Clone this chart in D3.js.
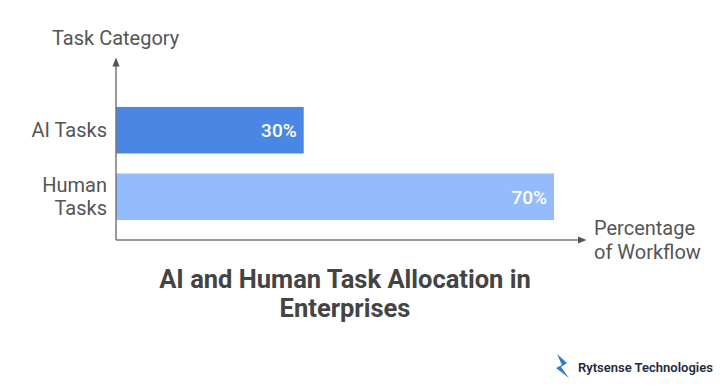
<!DOCTYPE html>
<html>
<head>
<meta charset="utf-8">
<script src="https://cdn.jsdelivr.net/npm/d3@7"></script>
<style>
  body { margin: 0; background: #fff; }
  svg { display: block; font-family: Roboto, "Noto Sans", sans-serif; }
</style>
</head>
<body>
<div id="chart"></div>
<script>
const categories = ["AI Tasks", "Human Tasks"];
const categoryLines = [["AI Tasks"], ["Human", "Tasks"]];
const values = [30, 70];
const barColors = ["#4a86e4", "#94bbfb"];

const width = 726, height = 390;
const axisX = 116, axisY = 240;

const svg = d3.select("#chart").append("svg")
    .attr("width", width)
    .attr("height", height);

const x = d3.scaleLinear()
    .domain([0, 70])
    .range([axisX, 554]);

const y = d3.scaleBand()
    .domain(categories)
    .range([87, 240])
    .paddingInner(0.3)
    .paddingOuter(0.3);

// Bars
svg.selectAll(".bar")
    .data(values)
    .enter()
    .append("rect")
    .attr("x", x(0))
    .attr("y", (d, i) => y(categories[i]))
    .attr("width", d => x(d) - x(0))
    .attr("height", y.bandwidth())
    .attr("fill", (d, i) => barColors[i]);

// Value labels
svg.selectAll(".val")
    .data(values)
    .enter()
    .append("text")
    .attr("x", d => x(d) - 7)
    .attr("y", (d, i) => y(categories[i]) + y.bandwidth() / 2 + 7)
    .attr("text-anchor", "end")
    .style("font-size", "19px")
    .style("font-weight", "500")
    .style("fill", "#fff")
    .text(d => d + "%");

// Category labels
categoryLines.forEach((lines, i) => {
    const cy = y(categories[i]) + y.bandwidth() / 2;
    const t = svg.append("text")
        .attr("text-anchor", "end")
        .style("font-size", "20px")
        .style("fill", "#555");
    lines.forEach((ln, j) => {
        t.append("tspan")
            .attr("x", 107)
            .attr("y", cy + 7 + (j - (lines.length - 1) / 2) * 23)
            .text(ln);
    });
});

// Axes with arrows
const defs = svg.append("defs");
defs.append("marker")
    .attr("id", "arrow")
    .attr("viewBox", "0 0 10 10")
    .attr("refX", 5).attr("refY", 5)
    .attr("markerWidth", 6).attr("markerHeight", 6)
    .attr("orient", "auto")
    .append("path")
    .attr("d", "M0,1 L10,5 L0,9 z")
    .attr("fill", "#555");

svg.append("line")
    .attr("x1", axisX).attr("y1", axisY)
    .attr("x2", axisX).attr("y2", 62)
    .attr("stroke", "#777").attr("stroke-width", 1.5)
    .attr("marker-end", "url(#arrow)");

svg.append("line")
    .attr("x1", axisX).attr("y1", axisY)
    .attr("x2", 582).attr("y2", axisY)
    .attr("stroke", "#777").attr("stroke-width", 1.5)
    .attr("marker-end", "url(#arrow)");

// Axis titles
svg.append("text")
    .attr("x", 52).attr("y", 45)
    .style("font-size", "20px")
    .style("fill", "#555")
    .text("Task Category");

const xt = svg.append("text")
    .style("font-size", "20px")
    .style("fill", "#555");
xt.append("tspan").attr("x", 594).attr("y", 235).text("Percentage");
xt.append("tspan").attr("x", 594).attr("y", 259).text("of Workflow");

// Chart title
const title = svg.append("text")
    .attr("text-anchor", "middle")
    .style("font-size", "25.5px")
    .style("font-weight", "bold")
    .style("fill", "#444");
title.append("tspan").attr("x", 345).attr("y", 288).text("AI and Human Task Allocation in");
title.append("tspan").attr("x", 345).attr("y", 317).text("Enterprises");

// Logo
const logo = svg.append("g").attr("transform", "translate(555,354)");
logo.append("path")
    .attr("d", "M2,0 L12,9 L6,13 L14,24 L1,14 L7,11 Z")
    .attr("fill", "#2a7bd8");
logo.append("text")
    .attr("x", 23).attr("y", 18)
    .style("font-size", "13px")
    .style("font-weight", "600")
    .style("fill", "#1f2a44")
    .text("Rytsense Technologies");
</script>
</body>
</html>
